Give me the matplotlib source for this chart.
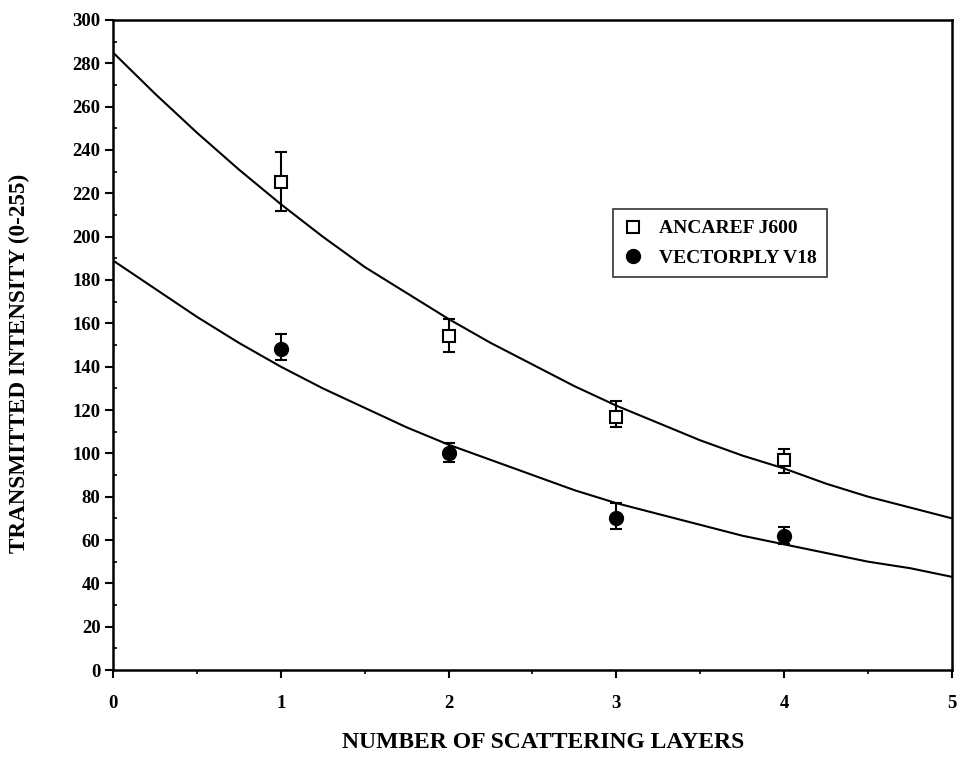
import matplotlib
matplotlib.use("Agg")
import matplotlib.pyplot as plt
from matplotlib.ticker import MultipleLocator

# Measured intensities per number of layers
layers = [1, 2, 3, 4]
ancaref = [225, 154, 117, 97]
ancaref_hi = [239, 162, 124, 102]
ancaref_lo = [212, 147, 112, 91]
vectorply = [148, 100, 70, 62]
vectorply_hi = [155, 105, 77, 66]
vectorply_lo = [143, 96, 65, 58]

# Fitted decay curves
fit_x = [0, 0.25, 0.5, 0.75, 1, 1.25, 1.5, 1.75, 2, 2.25, 2.5, 2.75, 3, 3.25, 3.5, 3.75, 4, 4.25, 4.5, 4.75, 5]
fit_ancaref = [285, 266, 248, 231, 215, 200, 186, 174, 162, 151, 141, 131, 122, 114, 106, 99, 93, 86, 80, 75, 70]
fit_vectorply = [189, 176, 163, 151, 140, 130, 121, 112, 104, 97, 90, 83, 77, 72, 67, 62, 58, 54, 50, 47, 43]

plt.rcParams["font.family"] = ["Liberation Serif", "DejaVu Serif"]
plt.rcParams["font.weight"] = "bold"

fig = plt.figure(figsize=(9.61, 7.57), dpi=100)
ax = fig.add_axes([0.1176, 0.1149, 0.873, 0.8587])

ax.plot(fit_x, fit_ancaref, color="black", lw=1.5)
ax.plot(fit_x, fit_vectorply, color="black", lw=1.5)

def errs(v, hi, lo):
    return [[a - b for a, b in zip(v, lo)], [b - a for a, b in zip(v, hi)]]

ax.errorbar(layers, ancaref, yerr=errs(ancaref, ancaref_hi, ancaref_lo), fmt="s",
            mfc="white", mec="black", mew=1.5, ms=9, ecolor="black", elinewidth=1.5,
            capsize=4, capthick=1.5, label="ANCAREF J600", zorder=3)
ax.errorbar(layers, vectorply, yerr=errs(vectorply, vectorply_hi, vectorply_lo), fmt="o",
            mfc="black", mec="black", ms=10, ecolor="black", elinewidth=1.5,
            capsize=4, capthick=1.5, label="VECTORPLY V18", zorder=3)

ax.set_xlim(0, 5)
ax.set_ylim(0, 300)
ax.xaxis.set_major_locator(MultipleLocator(1))
ax.xaxis.set_minor_locator(MultipleLocator(0.5))
ax.yaxis.set_major_locator(MultipleLocator(20))
ax.yaxis.set_minor_locator(MultipleLocator(10))
ax.tick_params(axis="x", which="major", direction="out", length=6, width=1.5, pad=12, labelsize=13.5)
ax.tick_params(axis="x", which="minor", direction="out", length=3, width=1.2)
ax.tick_params(axis="y", which="major", direction="out", length=6, width=1.5, pad=3, labelsize=13.5)
ax.tick_params(axis="y", which="minor", direction="in", length=3, width=1.2)
for lab in ax.get_xticklabels() + ax.get_yticklabels():
    lab.set_fontweight("bold")
for s in ax.spines.values():
    s.set_linewidth(1.8)

ax.set_xlabel("NUMBER OF SCATTERING LAYERS", fontsize=17, fontweight="bold")
ax.set_ylabel("TRANSMITTED INTENSITY (0-255)", fontsize=16.7, fontweight="bold")
ax.xaxis.set_label_coords(0.5125, -0.095)
ax.yaxis.set_label_coords(-0.099, 0.472)

handles, labels = ax.get_legend_handles_labels()
leg = ax.legend([h[0] for h in handles], labels, loc="upper left", bbox_to_anchor=(0.596, 0.709),
                borderaxespad=0, frameon=True, fancybox=False, edgecolor="black",
                prop={"weight": "bold", "size": 14}, handletextpad=0.8, handlelength=1.0,
                borderpad=0.55, labelspacing=0.6)
leg.get_frame().set_linewidth(1.2)

fig.savefig("out.png", dpi=100)
